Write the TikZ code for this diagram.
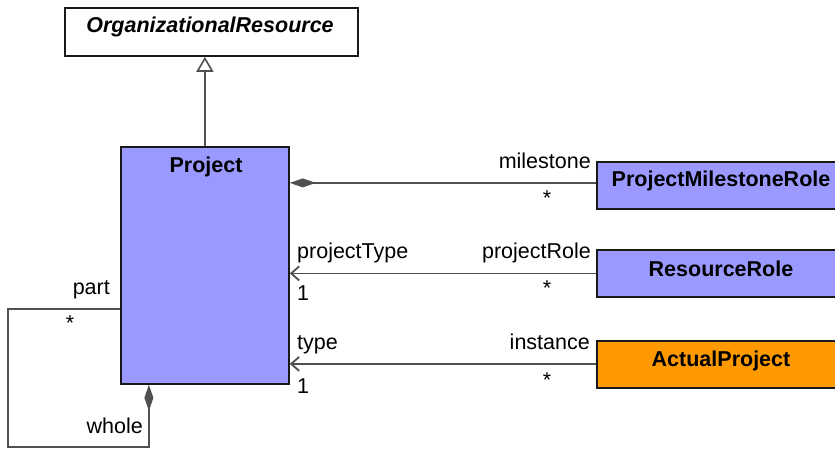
\documentclass[tikz,border=0pt]{standalone}
\usepackage{fontspec}
\setmainfont{Liberation Sans}
\usetikzlibrary{arrows.meta}
\definecolor{umlblue}{HTML}{9999FF}
\definecolor{umlorange}{HTML}{FF9900}
\definecolor{linegray}{HTML}{505050}
\begin{document}
\begin{tikzpicture}[x=1pt,y=-1pt,
  classbox/.style={draw=black!90, line width=1.8pt, inner sep=0pt, anchor=north west},
  cname/.style={font=\fontsize{21.5}{26}\selectfont\bfseries, inner sep=0pt, anchor=base},
  lbl/.style={font=\fontsize{21.5}{26}\selectfont, inner sep=0pt},
  assoc/.style={draw=linegray, line width=1.8pt},
  comp/.style={{Diamond[length=26pt,width=9pt,fill=linegray]}-},
  nav/.style={{Straight Barb[length=8pt,width=14pt,line width=1.8pt]}-},
  gen/.style={-{Triangle[open,length=15pt,width=17pt,fill=white,line width=1.6pt]}}
]
\useasboundingbox (0,0) rectangle (835,449);
\fill[white] (0,0) rectangle (835,449);

% classes
\node[classbox, fill=white, minimum width=293pt, minimum height=48pt] (org) at (64,7) {};
\node[cname, font=\fontsize{21.5}{26}\selectfont\bfseries\itshape] (orgt) at (210,33) {OrganizationalResource};

\node[classbox, fill=umlblue, minimum width=168pt, minimum height=237pt] (project) at (120,146) {};
\node[cname] (projectt) at (206,173) {Project};

\node[classbox, fill=umlblue, minimum width=252pt, minimum height=47pt] (pmr) at (596,161) {};
\node[cname] (pmrt) at (721,187) {ProjectMilestoneRole};

\node[classbox, fill=umlblue, minimum width=252pt, minimum height=47pt] (rr) at (596,249) {};
\node[cname] (rrt) at (721,276) {ResourceRole};

\node[classbox, fill=umlorange, minimum width=252pt, minimum height=47pt] (ap) at (596,340) {};
\node[cname] (apt) at (721,366) {ActualProject};

% generalization
\draw[assoc, gen] (project.north) -- (project.north |- org.south);

% milestone composition
\coordinate (pmw) at ([yshift=2.5pt]pmr.west);
\draw[assoc, comp] (project.east |- pmw) -- (pmw);
\node[lbl, anchor=base east] (lmil) at (591,169) {milestone};
\node[lbl] (smil) at (547,198) {*};

% projectType association
\coordinate (rrw) at (rr.west);
\draw[assoc, nav] (project.east |- rrw) -- (rrw);
\node[lbl, anchor=base west] (lpt) at (297,258) {projectType};
\node[lbl, anchor=base east] (lpr) at (591,258) {projectRole};
\node[lbl, anchor=base west] (opt) at (297,300) {1};
\node[lbl] (spr) at (547,288) {*};

% type association
\coordinate (apw) at ([yshift=0.5pt]ap.west);
\draw[assoc, nav] (project.east |- apw) -- (apw);
\node[lbl, anchor=base west] (lty) at (297,349) {type};
\node[lbl, anchor=base east] (lin) at (590,349) {instance};
\node[lbl, anchor=base west] (oty) at (297,393) {1};
\node[lbl] (sin) at (547,380) {*};

% whole/part self composition
\coordinate (ws) at ([xshift=-56pt]project.south);
\coordinate (pw) at ([yshift=-43.5pt]project.west);
\coordinate (lp) at (8,447);
\draw[assoc, comp] (ws) -- (ws |- lp) -- (lp) -- (lp |- pw) -- (pw);
\node[lbl, anchor=base east] (lpart) at (110,294) {part};
\node[lbl] (spart) at (70,323) {*};
\node[lbl, anchor=base east] (lwhole) at (143,433) {whole};
\end{tikzpicture}
\end{document}
